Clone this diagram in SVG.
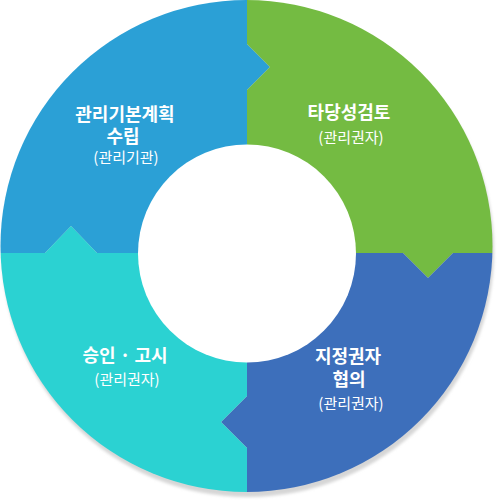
<svg xmlns="http://www.w3.org/2000/svg" width="497" height="500" viewBox="0 0 497 500">
  <defs>
    <clipPath id="ring">
      <circle cx="246.5" cy="246" r="246"/>
    </clipPath>
    <filter id="blur" x="-10%" y="-10%" width="120%" height="120%">
      <feGaussianBlur stdDeviation="1.8"/>
    </filter>
  </defs>
  <style>
    .t { font-family: "Noto Sans CJK KR", "Noto Sans", sans-serif; fill: #ffffff; text-anchor: middle; }
    .h { font-size: 18px; font-weight: 700; }
    .s { font-size: 15px; font-weight: 400; }
  </style>
  <rect width="497" height="500" fill="#ffffff"/>
  <circle cx="248" cy="251" r="246" fill="#d6d6d6" filter="url(#blur)"/>
  <g id="plan">
    <path clip-path="url(#ring)" fill="#2ba0d6" d="M0,0 H247 V44 L270,67 L247,90 V253 H97 L71,226 L45,253 H0 Z"/>
    <text class="t h" x="125" y="121">관리기본계획</text>
    <text class="t h" x="123" y="143">수립</text>
    <text class="t s" x="126" y="163">(관리기관)</text>
  </g>
  <g id="review">
    <path clip-path="url(#ring)" fill="#74bb42" d="M247,0 H497 V253 H453 L428,278 L403,253 H247 V90 L270,67 L247,44 Z"/>
    <text class="t h" x="349" y="119">타당성검토</text>
    <text class="t s" x="351" y="143">(관리권자)</text>
  </g>
  <g id="consult">
    <path clip-path="url(#ring)" fill="#3d6fbb" d="M247,253 H403 L428,278 L453,253 H497 V500 H247 V448 L221,422 L247,396 Z"/>
    <text class="t h" x="348" y="363">지정권자</text>
    <text class="t h" x="349" y="386">협의</text>
    <text class="t s" x="351" y="409">(관리권자)</text>
  </g>
  <g id="approve">
    <path clip-path="url(#ring)" fill="#2bd2d2" d="M0,253 H45 L71,226 L97,253 H247 V396 L221,422 L247,448 V500 H0 Z"/>
    <text class="t h" x="125" y="362">승인 · 고시</text>
    <text class="t s" x="127" y="385">(관리권자)</text>
  </g>
  <g id="connectors"></g>
  <circle cx="247" cy="253.5" r="109" fill="#ffffff"/>
</svg>
